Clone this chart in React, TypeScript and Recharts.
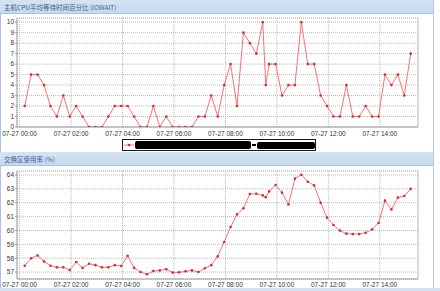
import React from 'react';
import { LineChart, Line, XAxis, YAxis, CartesianGrid, Legend, ReferenceLine } from 'recharts';

const datePrefix = '07-27';
const timeLabels = [
  '00:12', '00:27', '00:42', '00:57', '01:12', '01:27', '01:42', '01:57',
  '02:12', '02:27', '02:42', '02:57', '03:12', '03:27', '03:42', '03:57',
  '04:12', '04:27', '04:42', '04:57', '05:12', '05:27', '05:42', '05:57',
  '06:12', '06:27', '06:42', '06:57', '07:12', '07:27', '07:42', '07:57',
  '08:12', '08:27', '08:42', '08:57', '09:12', '09:27', '09:34', '09:42',
  '09:57', '10:12', '10:27', '10:42', '10:57', '11:12', '11:27', '11:42',
  '11:57', '12:12', '12:27', '12:42', '12:57', '13:12', '13:27', '13:42',
  '13:57', '14:12', '14:27', '14:42', '14:57', '15:12',
];
const iowaitValues = [
  2, 5, 5, 4, 2, 1, 3, 1, 2, 1, 0, 0, 0, 1, 2, 2,
  2, 1, 0, 0, 2, 0, 1, 0, 0, 0, 0, 1, 1, 3, 1, 4,
  6, 2, 9, 8, 7, 10, 4, 6, 6, 3, 4, 4, 10, 6, 6, 3,
  2, 1, 1, 4, 1, 1, 2, 1, 1, 5, 4, 5, 3, 7,
];
const swapValues = [
  57.46, 58.0, 58.2, 57.77, 57.46, 57.34, 57.34, 57.15, 57.73, 57.3, 57.6, 57.5, 57.34, 57.34, 57.5, 57.44,
  58.18, 57.3, 57.0, 56.84, 57.07, 57.12, 57.2, 56.96, 56.98, 57.05, 57.12, 57.0, 57.27, 57.5, 58.13, 59.17,
  60.25, 61.16, 61.6, 62.63, 62.65, 62.53, 62.4, 62.82, 63.28, 62.73, 61.88, 63.74, 64.02, 63.52, 63.25, 62.0,
  60.92, 60.4, 59.99, 59.77, 59.74, 59.74, 59.84, 60.08, 60.54, 62.15, 61.52, 62.37, 62.49, 63.0,
];
const xTickLabels = ['00:00', '02:00', '04:00', '06:00', '08:00', '10:00', '12:00', '14:00'];
const iowaitTicks = [0, 1, 2, 3, 4, 5, 6, 7, 8, 9, 10];
const swapTicks = [57, 58, 59, 60, 61, 62, 63, 64];
const iowaitTitle = '主机CPU平均等待时间百分比 (IOWAIT)';
const swapTitle = '交换区使用率 (%)';
const seriesName = '主机名称资源信息 - 主机地址信息';

const toMin = (s: string) => {
  const [h, m] = s.split(':').map(Number);
  return h * 60 + m;
};
const pad = (n: number) => String(n).padStart(2, '0');
const fmtTick = (m: number) => `${datePrefix} ${pad(Math.floor(m / 60))}:${pad(m % 60)}`;

const data = timeLabels.map((t, i) => ({ t: toMin(t), iowait: iowaitValues[i], swap: swapValues[i] }));
const xTicks = xTickLabels.map(toMin);
const X_DOMAIN: [number, number] = [-6, 929];

const FONT = '"Liberation Sans", Arial, sans-serif';
const CJK = '"Noto Sans CJK SC", "Liberation Sans", sans-serif';
const LINE = '#ff7070';
const DOT = '#d42a36';
const GRID = '#b9b9b9';
const tickStyle = { fontSize: 6.5, fill: '#333', fontFamily: FONT };

const headerStyle = (top: number): React.CSSProperties => ({
  position: 'absolute',
  left: 0,
  top,
  width: 433,
  height: 14,
  background: 'linear-gradient(#d5e3f4, #c7d9ef)',
  borderBottom: '1px solid #a9c3e6',
  boxSizing: 'border-box',
  fontFamily: CJK,
  fontSize: 6.5,
  lineHeight: '14px',
  color: '#3d5b88',
  paddingLeft: 4,
  whiteSpace: 'nowrap',
});

const renderLegend = (props: any) => {
  const name = props.payload && props.payload[0] ? String(props.payload[0].value) : seriesName;
  const parts = name.split(' - ');
  return (
    <div
      style={{
        boxSizing: 'border-box',
        width: 194,
        height: 12,
        border: '1px solid #1a1a1a',
        background: '#fff',
        display: 'flex',
        alignItems: 'center',
        paddingLeft: 1,
        fontFamily: CJK,
      }}
    >
      <svg width={10} height={8} style={{ display: 'block' }}>
        <line x1={0} y1={4} x2={10} y2={4} stroke={LINE} strokeWidth={1} />
        <circle cx={5} cy={4} r={1.3} fill={DOT} />
      </svg>
      <span
        style={{
          marginLeft: 1,
          display: 'inline-block',
          background: '#000',
          color: '#000',
          fontSize: 6,
          height: 8,
          lineHeight: '8px',
          width: 116,
          overflow: 'hidden',
          whiteSpace: 'nowrap',
          borderRadius: 2,
        }}
      >
        {parts[0]}
      </span>
      <span style={{ display: 'inline-block', width: 4, height: 2, background: '#000', margin: '0 1px' }} />
      <span
        style={{
          display: 'inline-block',
          background: '#000',
          color: '#000',
          fontSize: 6,
          height: 7,
          lineHeight: '7px',
          width: 58,
          overflow: 'hidden',
          whiteSpace: 'nowrap',
          borderRadius: 2,
        }}
      >
        {parts[1] || ''}
      </span>
    </div>
  );
};

type ChartProps = {
  top: number;
  height: number;
  marginTop: number;
  xHeight: number;
  xTickMargin: number;
  dataKey: 'iowait' | 'swap';
  domain: [number, number];
  ticks: number[];
  name: string;
  legend?: boolean;
};

function Chart({ top, height, marginTop, xHeight, xTickMargin, dataKey, domain, ticks, name, legend }: ChartProps) {
  return (
    <div style={{ position: 'absolute', left: 0, top }}>
      <LineChart
        width={440}
        height={height}
        data={data}
        margin={{ top: marginTop, right: 22, bottom: 0, left: 0 }}
        style={{ fontFamily: FONT }}
      >
        <CartesianGrid stroke={GRID} strokeDasharray="1 1" />
        <ReferenceLine y={domain[1]} stroke={GRID} strokeDasharray="1 1" />
        <ReferenceLine x={X_DOMAIN[1]} stroke="#c8c8c8" />
        <XAxis
          type="number"
          dataKey="t"
          domain={X_DOMAIN}
          ticks={xTicks}
          interval={0}
          tickFormatter={fmtTick}
          height={xHeight}
          tickSize={0}
          tickMargin={xTickMargin}
          stroke="#9a9a9a"
          tick={tickStyle}
          allowDataOverflow
        />
        <YAxis
          type="number"
          domain={domain}
          ticks={ticks}
          interval={0}
          width={17}
          tickSize={2}
          tickMargin={1}
          stroke="#a0a0a0"
          tick={tickStyle}
          allowDataOverflow
        />
        {legend && (
          <Legend
            layout="horizontal"
            verticalAlign="middle"
            align="center"
            content={renderLegend}
            wrapperStyle={{ top: 139, left: 122, width: 194, height: 12, margin: 0 }}
          />
        )}
        <Line
          type="linear"
          dataKey={dataKey}
          name={name}
          stroke={LINE}
          strokeWidth={1}
          dot={{ r: 1.3, fill: DOT, stroke: 'none' }}
          activeDot={false}
          isAnimationActive={false}
        />
      </LineChart>
    </div>
  );
}

export default function App() {
  return (
    <div
      style={{
        position: 'fixed',
        left: 0,
        top: 0,
        width: 440,
        height: 291,
        background: '#fff',
        overflow: 'hidden',
      }}
    >
      <div style={{ position: 'absolute', left: 0, top: 0, width: 1, height: 291, background: '#a9c3e6' }} />
      <div style={{ position: 'absolute', left: 433, top: 0, width: 1, height: 291, background: '#b8c9e0' }} />
      <div style={{ position: 'absolute', left: 0, top: 288, width: 440, height: 3, background: '#d2e0f2' }} />
      <div style={headerStyle(0)}>{iowaitTitle}</div>
      <Chart
        top={0}
        height={140}
        marginTop={18}
        xHeight={13}
        xTickMargin={4}
        dataKey="iowait"
        domain={[0, 10.4]}
        ticks={iowaitTicks}
        name={seriesName}
        legend
      />
      <div style={headerStyle(152)}>{swapTitle}</div>
      <Chart
        top={152}
        height={139}
        marginTop={19}
        xHeight={12}
        xTickMargin={3}
        dataKey="swap"
        domain={[56.5, 64.29]}
        ticks={swapTicks}
        name={swapTitle}
      />
    </div>
  );
}
